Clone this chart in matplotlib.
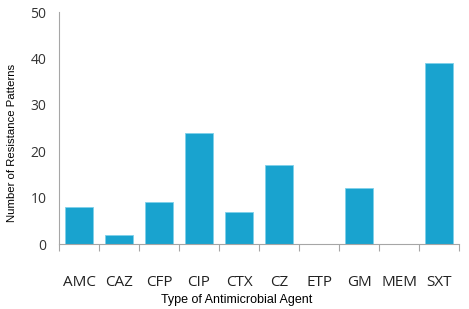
import numpy as np
import matplotlib.pyplot as plt

# Datos del grafico
agentes = ["AMC", "CAZ", "CFP", "CIP", "CTX", "CZ", "ETP", "GM", "MEM", "SXT"]
patrones = [8, 2, 9, 24, 7, 17, 0, 12, 0, 39]
yticks = [0, 10, 20, 30, 40, 50]

color_barra = "#19a3cf"
color_eje = "#a6a6a6"

fig = plt.figure(figsize=(4.69, 3.09), dpi=100)
ax = fig.add_axes([0.1258, 0.21, 0.853, 0.751])

x = np.arange(len(agentes))
ax.bar(x, patrones, width=0.68, color=color_barra, edgecolor="#7fd0ea", linewidth=0.6)

ax.set_xlim(-0.5, len(agentes) - 0.5)
ax.set_ylim(0, 50)
ax.set_yticks(yticks)
ax.set_yticklabels([str(v) for v in yticks], fontfamily="Open Sans", fontsize=10, color="#333333")
ax.tick_params(axis="y", length=0, pad=9)

ax.set_xticks(x)
ax.set_xticklabels(agentes, fontfamily="Open Sans", fontsize=11, color="#222222")
ax.tick_params(axis="x", length=0, pad=22)
ax.set_xticks(np.arange(-0.5, len(agentes)), minor=True)
ax.tick_params(axis="x", which="minor", length=5, color=color_eje, width=0.8)

for lado in ["top", "right"]:
    ax.spines[lado].set_visible(False)
for lado in ["left", "bottom"]:
    ax.spines[lado].set_color(color_eje)
    ax.spines[lado].set_linewidth(0.8)

ax.set_xlabel("Type of Antimicrobial Agent", fontfamily="Liberation Sans", fontsize=9)
ax.set_ylabel("Number of Resistance Patterns", fontfamily="Liberation Sans", fontsize=8.2)
ax.xaxis.set_label_coords(0.445, -0.241)
ax.xaxis.label.set_va("center")
ax.yaxis.set_label_coords(-0.1175, 0.435)
ax.yaxis.label.set_va("center")

fig.savefig("out.png", dpi=100)
